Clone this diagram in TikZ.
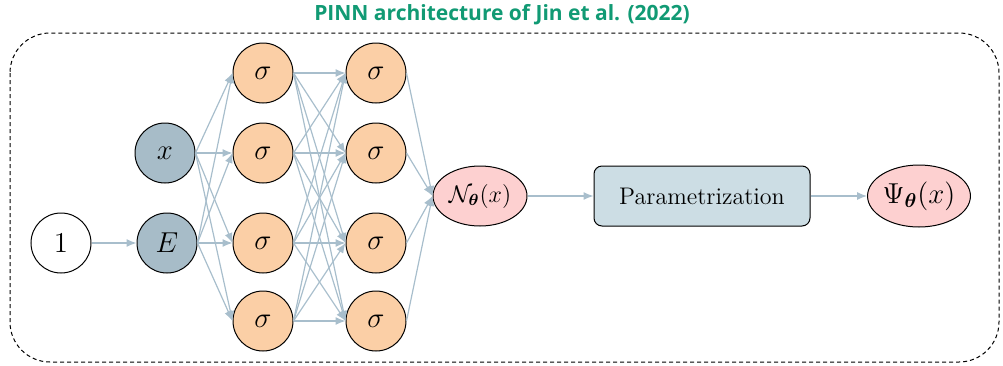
\documentclass[tikz,border=0pt]{standalone}
\usepackage{amsmath,bm}
\usepackage{fontspec}
\newfontfamily\titlefont{Open Sans}
\usetikzlibrary{arrows.meta,shapes.geometric}
\definecolor{titlegreen}{RGB}{17,154,116}
\definecolor{edgecol}{RGB}{168,190,204}
\definecolor{inputfill}{RGB}{167,188,200}
\definecolor{sigfill}{RGB}{251,207,166}
\definecolor{outfill}{RGB}{253,208,208}
\definecolor{parfill}{RGB}{204,221,228}
\tikzset{
  neuron/.style={circle,draw=black,line width=0.5pt,minimum size=30pt,inner sep=0pt,font=\Large},
  inp/.style={neuron,fill=inputfill},
  sig/.style={neuron,fill=sigfill},
  outell/.style={ellipse,draw=black,line width=0.5pt,fill=outfill,minimum width=47pt,minimum height=30pt,inner sep=0pt,font=\large},
  parbox/.style={rectangle,rounded corners=4pt,draw=black,line width=0.5pt,fill=parfill,minimum width=108pt,minimum height=30pt,font=\large},
  conn/.style={draw=edgecol,line width=0.6pt,-{Latex[length=5pt,width=4pt]}},
}
\begin{document}
\begin{tikzpicture}[x=0.5pt,y=-0.5pt]
\useasboundingbox (0,0) rectangle (1003,365);
\draw[dash pattern=on 2pt off 1.5pt,line width=0.5pt,rounded corners=20pt] (10,33) rectangle (999,362);
\node[font=\titlefont\bfseries\fontsize{10.5}{12}\selectfont,text=titlegreen] (title) at (502,15) {PINN architecture of Jin et al. (2022)};
\node[neuron,fill=white] (one) at (61,243) {$1$};
\node[inp] (x) at (165,153) {$x$};
\node[inp] (E) at (167,243) {$E$};
\foreach \i/\y in {1/73,2/153,3/243,4/321}{
  \node[sig] (a\i) at (263,\y) {$\sigma$};
  \node[sig] (b\i) at (376,\y) {$\sigma$};
}
\node[outell] (N) at (480,196) {$\mathcal{N}_{\bm{\theta}}(x)$};
\node[parbox] (P) at (702,196) {Parametrization};
\node[outell,minimum width=51pt,minimum height=31pt,font=\Large] (Psi) at (919,196) {$\Psi_{\bm{\theta}}(x)$};
\draw[conn] (one) -- (E);
\foreach \i in {1,...,4}{
  \draw[conn] (x.east) -- (a\i.west);
  \draw[conn] (E.east) -- (a\i.west);
  \foreach \j in {1,...,4}{
    \draw[conn] (a\i.east) -- (b\j.west);
  }
  \draw[conn] (b\i.east) -- (N.west);
}
\draw[conn] (N) -- (P);
\draw[conn] (P) -- (Psi);
\end{tikzpicture}
\end{document}
